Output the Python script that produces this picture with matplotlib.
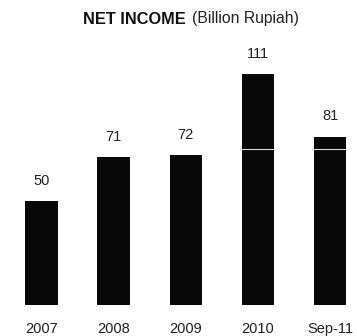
import matplotlib
matplotlib.use('Agg')
import matplotlib.pyplot as plt

plt.rcParams['font.family'] = ['Liberation Sans', 'DejaVu Sans']

periods = ['2007', '2008', '2009', '2010', 'Sep-11']
net_income = [50, 71, 72, 111, 81]

bar_color = '#080808'

fig = plt.figure(figsize=(3.57, 3.36), dpi=100)
ax = fig.add_axes([0, 31 / 336, 1, 265 / 336])

x = range(len(periods))
ax.bar(x, net_income, width=0.45, color=bar_color, zorder=2)
# faint white scan line, only visible across the taller bars
ax.axhline(75, color='white', lw=0.8, alpha=0.85, zorder=3)

for xi, v in zip(x, net_income):
    ax.annotate(str(v), (xi, v), xytext=(0, 14.5), textcoords='offset points',
                ha='center', va='center', fontsize=10.5, color='#222222')

ax.set_xlim(-0.576, 4.374)
ax.set_ylim(0, 127.4)
ax.set_xticks(list(x))
ax.set_xticklabels(periods, fontsize=10.5, color='#222222')
ax.tick_params(axis='x', length=0, pad=12.5)
ax.set_yticks([])
for s in ax.spines.values():
    s.set_visible(False)

fig.text(186 / 357, 1 - 23.5 / 336, 'NET INCOME', ha='right', va='baseline',
         fontsize=11.8, fontweight='bold', color='#111111')
fig.text(192 / 357, 1 - 23.5 / 336, '(Billion Rupiah)', ha='left', va='baseline',
         fontsize=11.3, color='#222222')

fig.savefig('out.png', dpi=100)
